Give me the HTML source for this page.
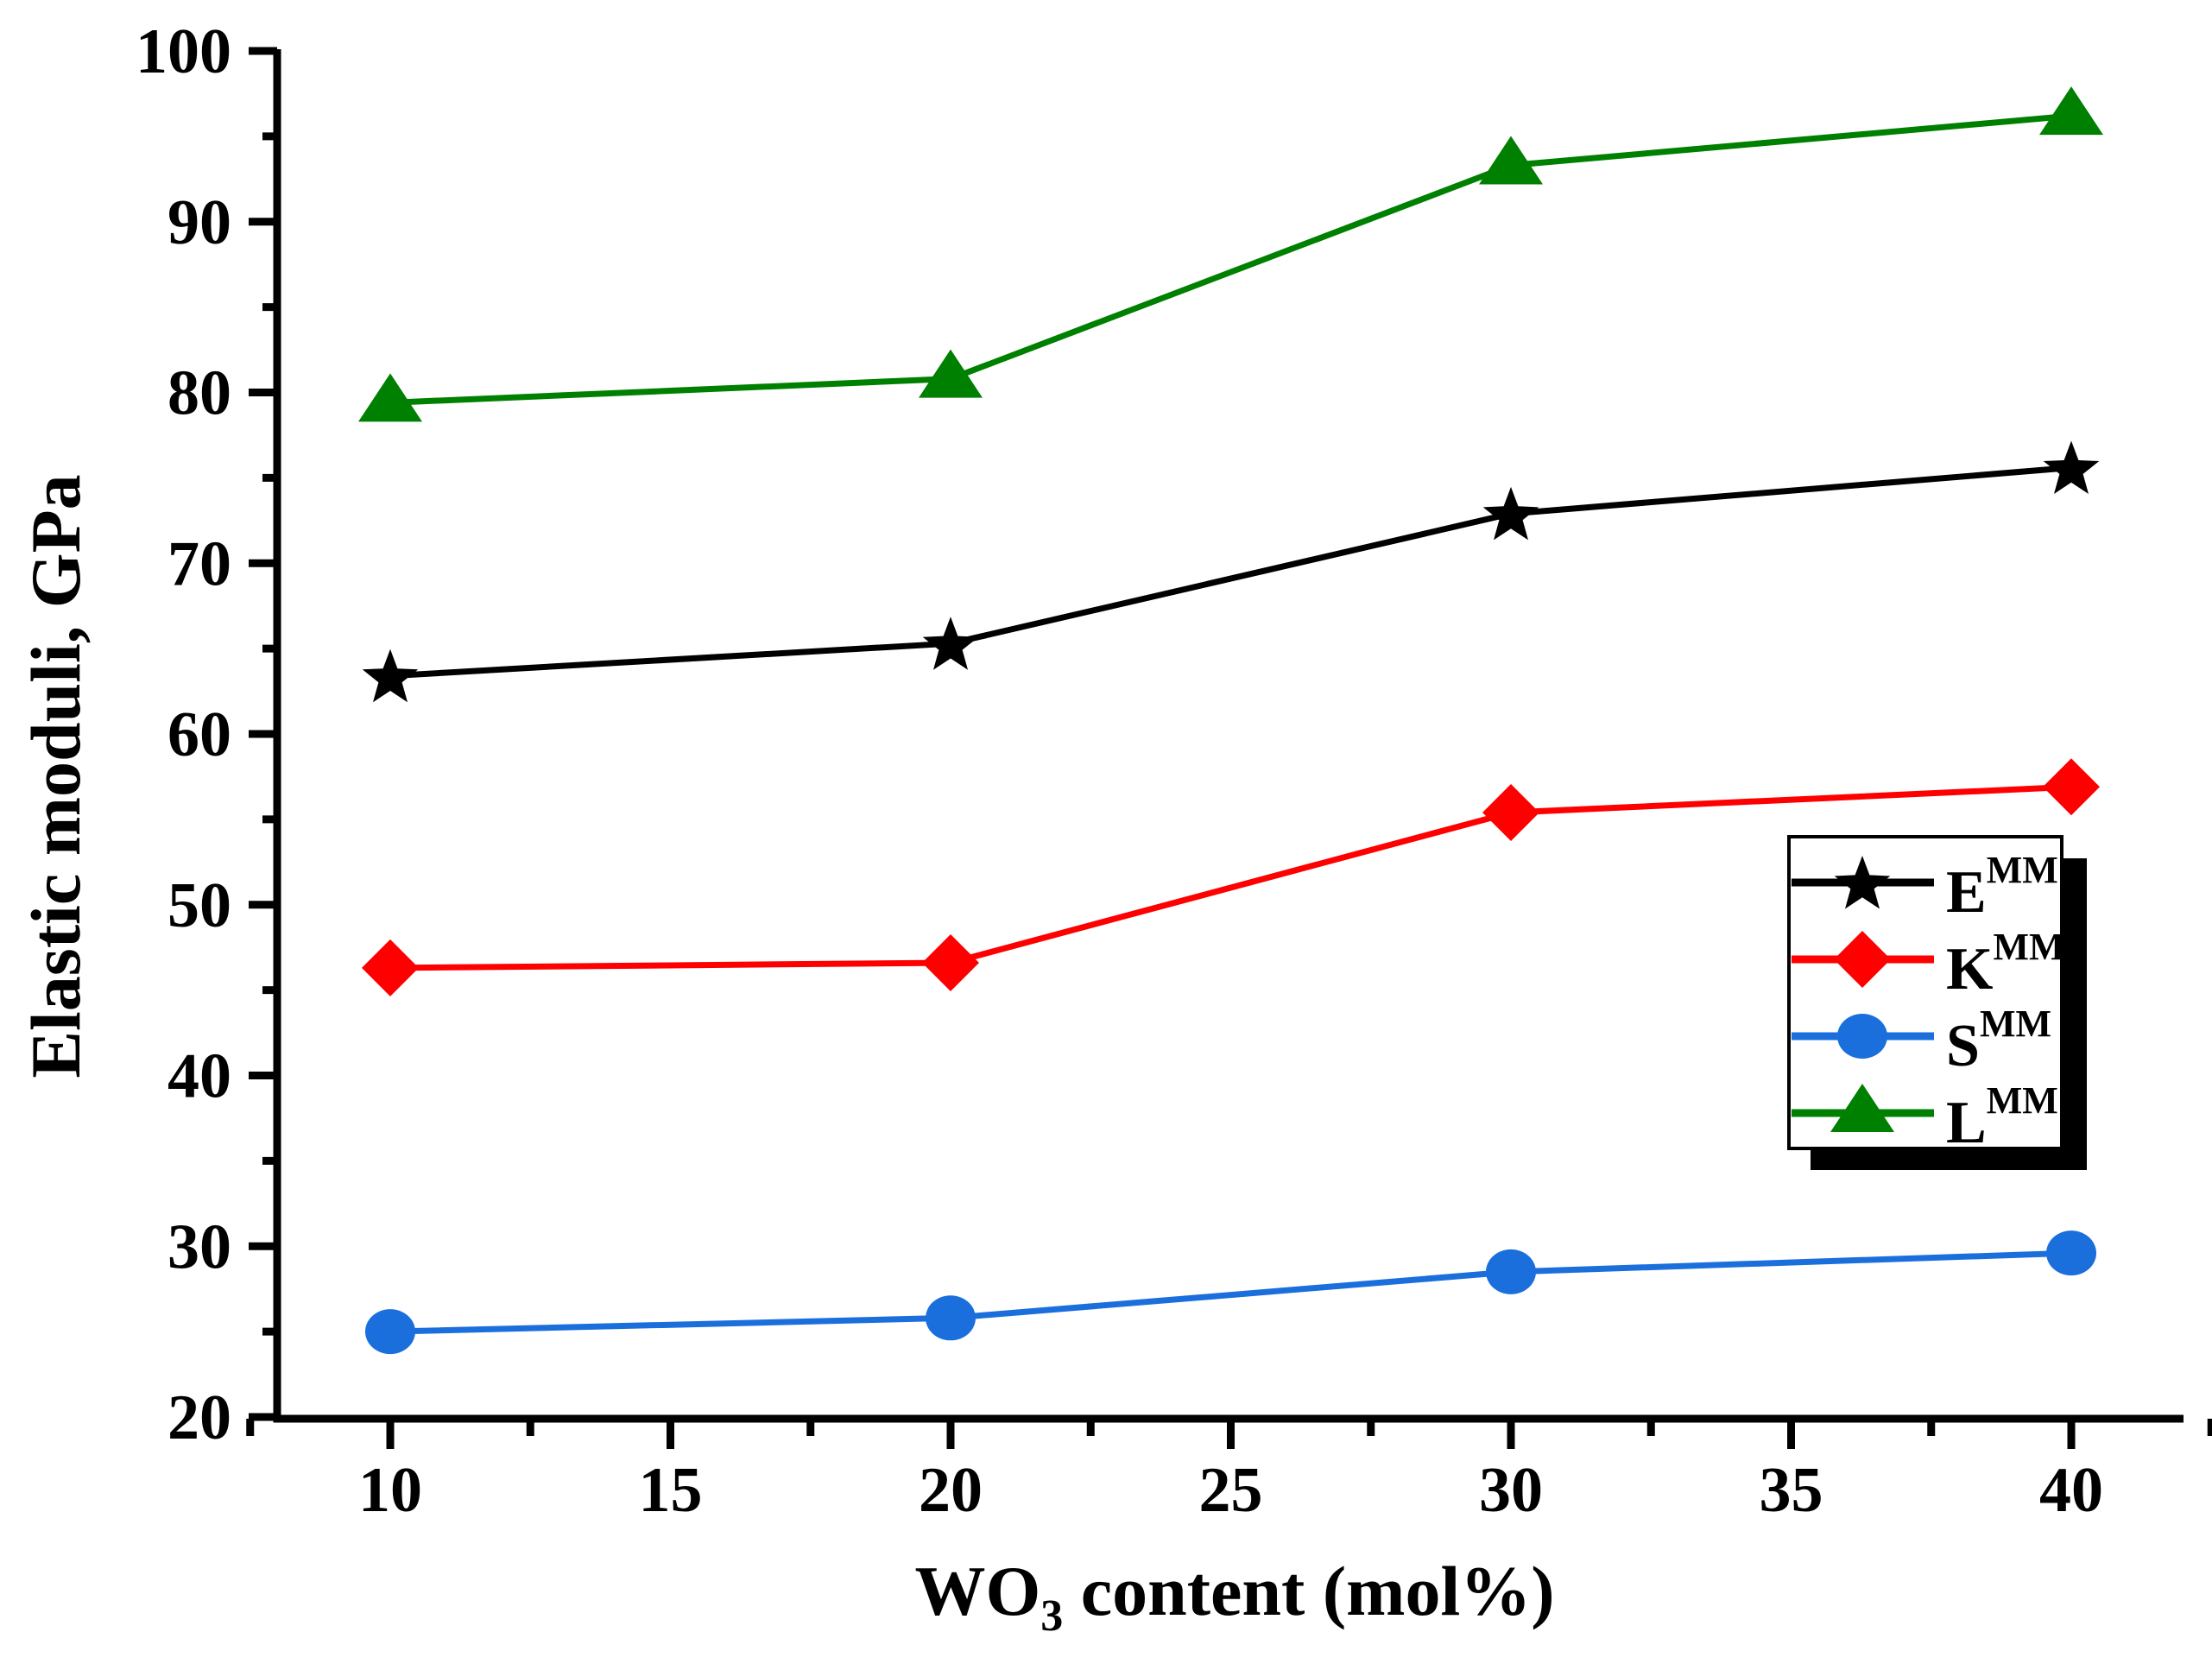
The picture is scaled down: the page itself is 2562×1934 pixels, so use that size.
<!DOCTYPE html>
<html><head><meta charset="utf-8"><style>
html,body{margin:0;padding:0;background:#fff}
svg{display:block;font-family:"Liberation Serif",serif;font-weight:bold}
</style></head><body>
<svg id="chart" width="2562" height="1934" viewBox="0 0 2562 1934" xmlns="http://www.w3.org/2000/svg">
<g id="axes"></g>
<g id="series"></g>
<text x="1430" y="1870" font-size="82" text-anchor="middle">WO<tspan font-size="52" dy="18">3</tspan><tspan dy="-18"> content (mol%)</tspan></text>
<text transform="translate(92,899) rotate(-90)" font-size="82" text-anchor="middle">Elastic moduli, GPa</text>
<g>
<rect x="2097" y="994" width="320" height="361" fill="#000"/>
<rect x="2072" y="969" width="316" height="361" fill="#fff" stroke="#000" stroke-width="4"/>
<g id="legend-entries"></g>
</g>
</svg>
<script>
const categories = [10, 20, 30, 40];
const seriesE = [63.4, 65.3, 72.9, 75.6];
const seriesK = [46.3, 46.6, 55.4, 56.9];
const seriesS = [25.0, 25.8, 28.5, 29.6];
const seriesL = [79.4, 80.8, 93.3, 96.2];
const yTicks = [20, 30, 40, 50, 60, 70, 80, 90, 100];
const xTicks = [10, 15, 20, 25, 30, 35, 40];

const NS = "http://www.w3.org/2000/svg";
const X0 = 452, X1 = 2399, Y0 = 1641, Y1 = 59;
function xs(v){ return X0 + (v - 10) / 30 * (X1 - X0); }
function ys(v){ return Y0 - (v - 20) / 80 * (Y0 - Y1); }
function mk(tag, attrs, parent){ const e = document.createElementNS(NS, tag); for (const k in attrs) e.setAttribute(k, attrs[k]); parent.appendChild(e); return e; }

const axes = document.getElementById('axes');
let a = mk('path', {d:`M321 57 V1643 H2529`, fill:'none', stroke:'#000', 'stroke-width':9}, axes);


yTicks.forEach((t, i) => {
  const y = ys(t);
  let l = mk('line', {x1:288, x2:321, y1:y, y2:y, stroke:'#000', 'stroke-width':9}, axes);
  
  
  let tx = mk('text', {x:268, y:y + 25, 'font-size':74, 'text-anchor':'end'}, axes);
  tx.textContent = t;
  
  
  if (i < yTicks.length - 1) {
    const ym = ys(t + 5);
    let m = mk('line', {x1:304, x2:321, y1:ym, y2:ym, stroke:'#000', 'stroke-width':9}, axes);
    
    
  }
});
xTicks.forEach((t, i) => {
  const x = xs(t);
  let l = mk('line', {x1:x, x2:x, y1:1643, y2:1678, stroke:'#000', 'stroke-width':9}, axes);
  
  
  let tx = mk('text', {x:x, y:1750, 'font-size':74, 'text-anchor':'middle'}, axes);
  tx.textContent = t;
  
  
});
[7.5, 12.5, 17.5, 22.5, 27.5, 32.5, 37.5, 42.5].forEach(t => {
  const x = xs(t);
  let m = mk('line', {x1:x, x2:x, y1:1643, y2:1663, stroke:'#000', 'stroke-width':9}, axes);
  
  
});

function star(cx, cy, R){ let p=[]; for(let i=0;i<10;i++){ const r = i%2?R*0.42:R; const an = -Math.PI/2 + i*Math.PI/5; p.push((cx+r*Math.cos(an)).toFixed(1)+','+(cy+r*Math.sin(an)).toFixed(1)); } return p.join(' '); }
function marker(type, cx, cy, color, parent){
  let e;
  if (type==='star') e = mk('polygon', {points:star(cx, cy+3, 34), fill:color}, parent);
  else if (type==='diamond') e = mk('polygon', {points:`${cx},${cy-33} ${cx+33},${cy} ${cx},${cy+33} ${cx-33},${cy}`, fill:color}, parent);
  else if (type==='circle') e = mk('ellipse', {cx:cx, cy:cy, rx:29, ry:26, fill:color}, parent);
  else e = mk('polygon', {points:`${cx},${cy-34} ${cx+37},${cy+22} ${cx-37},${cy+22}`, fill:color}, parent);
  return e;
}
const defs = [
  {name:'e', vals:seriesE, color:'#000000', m:'star', label:'E'},
  {name:'k', vals:seriesK, color:'#ff0000', m:'diamond', label:'K'},
  {name:'s', vals:seriesS, color:'#1a6fdd', m:'circle', label:'S'},
  {name:'l', vals:seriesL, color:'#008000', m:'triangle', label:'L'}
];
const sg = document.getElementById('series');
defs.forEach(d => {
  const g = mk('g', {}, sg);
  
  
  const pl = mk('polyline', {points:d.vals.map((v,i)=>xs(categories[i])+','+ys(v)).join(' '), fill:'none', stroke:d.color, 'stroke-width':7}, g);
  
  
  d.vals.forEach((v,i) => {
    const e = marker(d.m, xs(categories[i]), ys(v), d.color, g);
    
    
  });
});
const lg = document.getElementById('legend-entries');
defs.forEach((d, i) => {
  const y = 1022 + i * 89;
  const g = mk('g', {}, lg);
  
  
  mk('line', {x1:2075, x2:2240, y1:y, y2:y, stroke:d.color, 'stroke-width':9}, g);
  marker(d.m, 2157, y, d.color, g);
  const t = mk('text', {x:2254, y:y + 34, 'font-size':70}, g);
  t.innerHTML = d.label + '<tspan font-size="44" dy="-34">MM</tspan>';
});
</script>
</body></html>
